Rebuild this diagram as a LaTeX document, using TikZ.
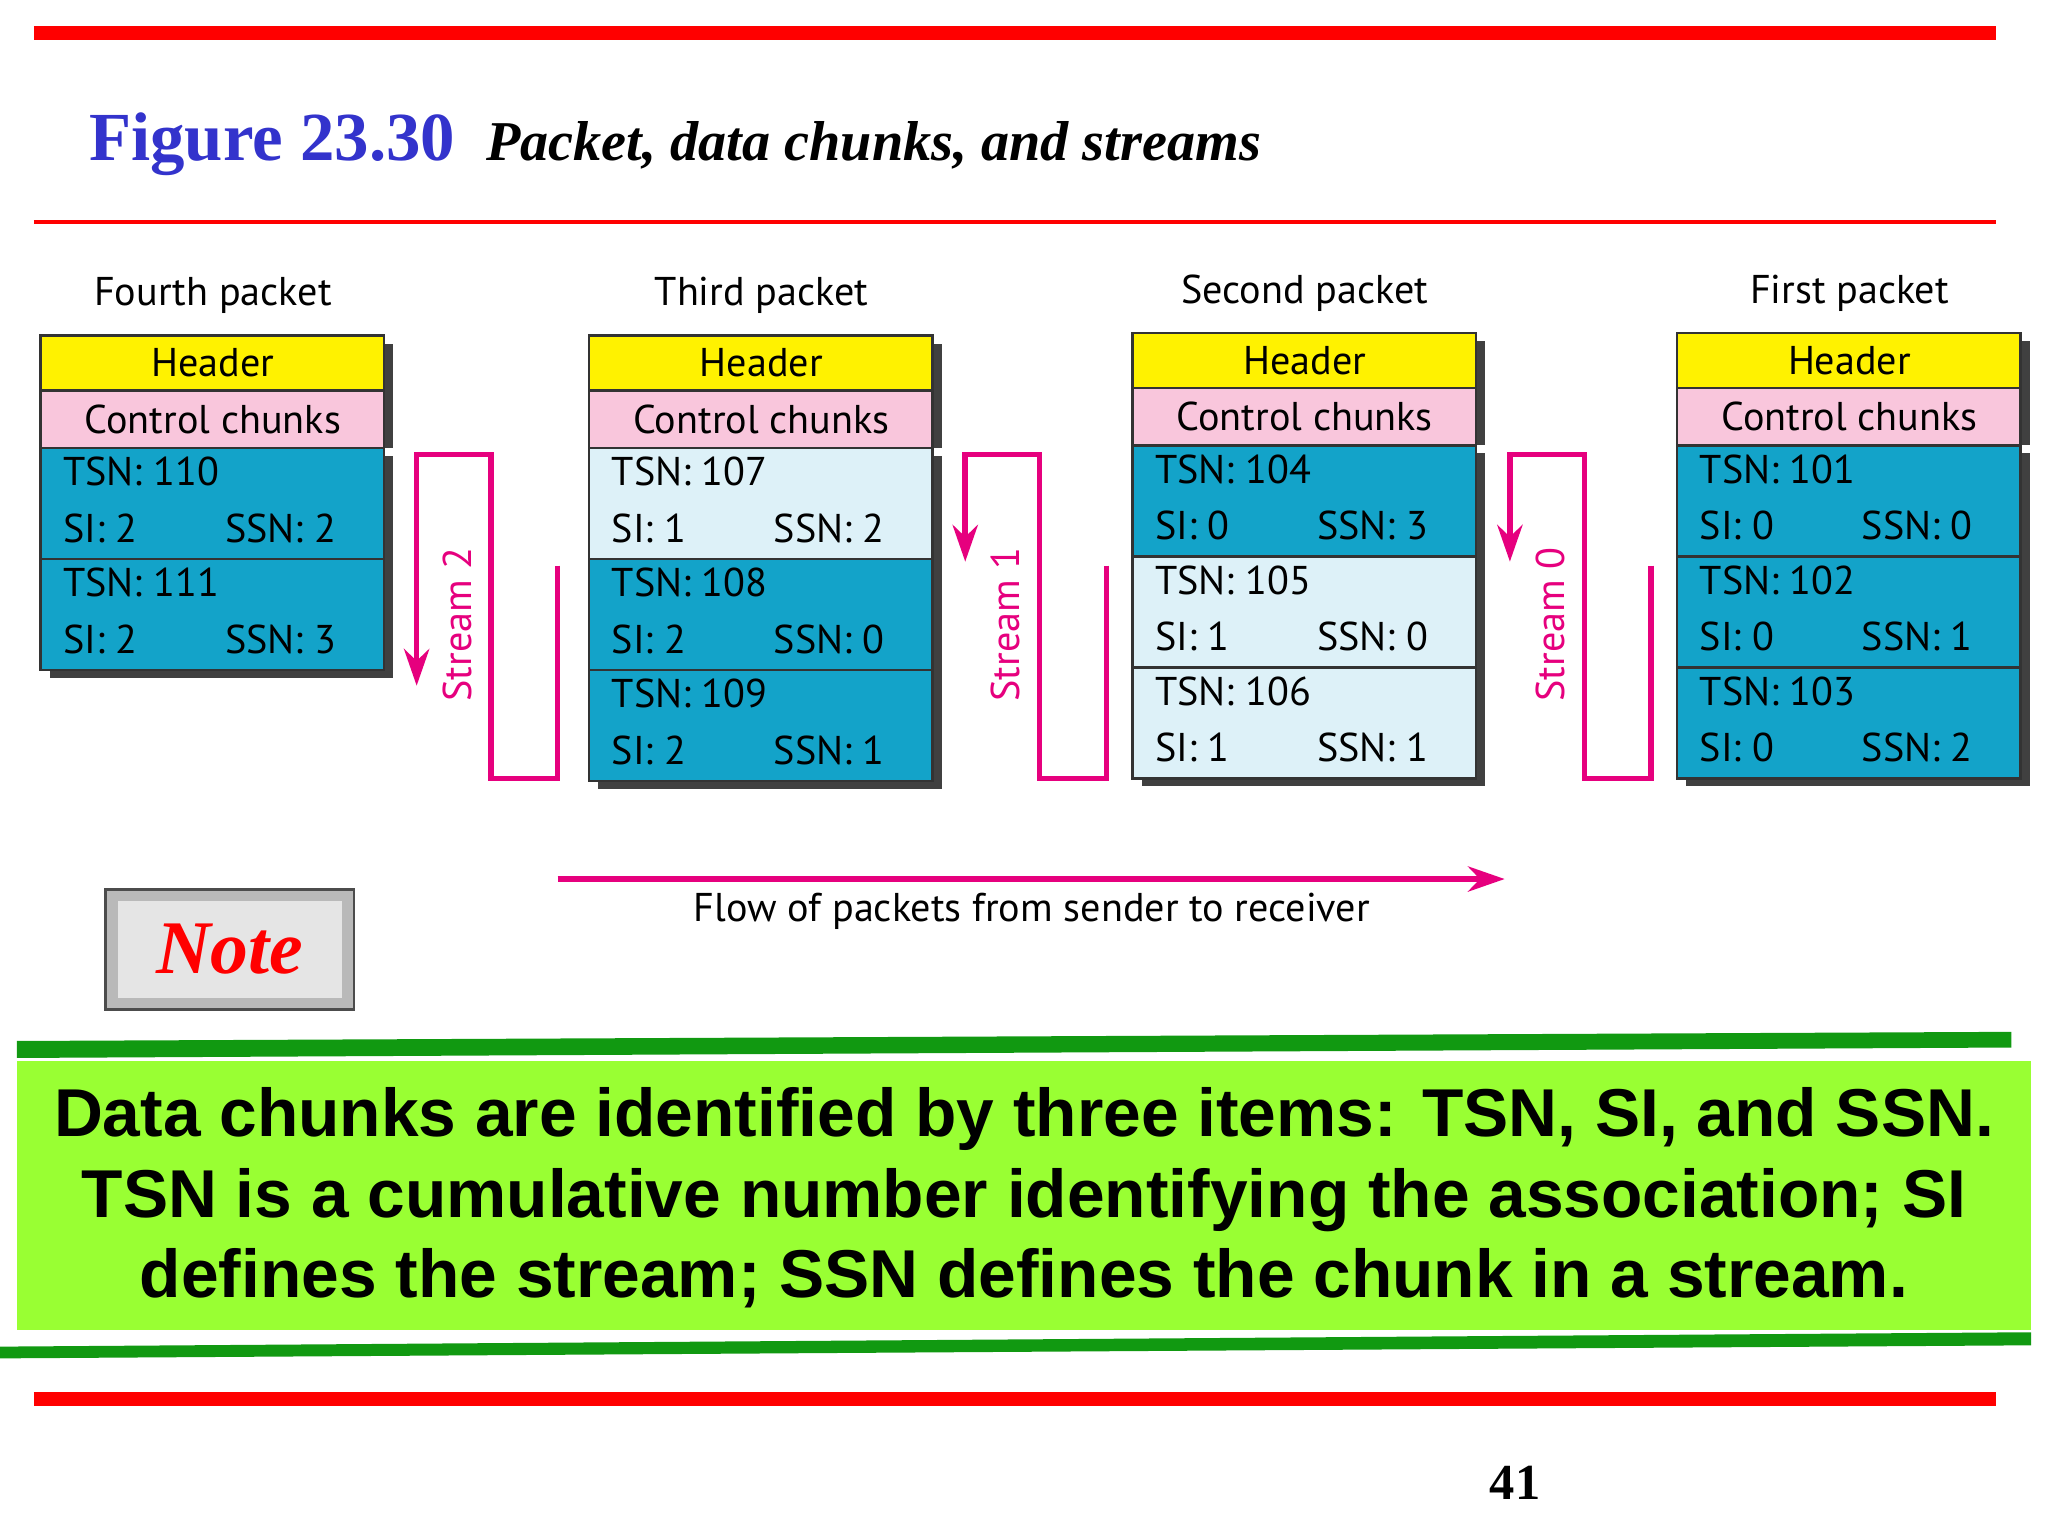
\documentclass[tikz,border=0pt]{standalone}
\usepackage{fontspec}
\setmainfont{Liberation Serif}
\newfontfamily\pk{PT Sans}
\newfontfamily\ar{Liberation Sans}
\usetikzlibrary{arrows.meta}
\definecolor{mag}{HTML}{E6007E}
\definecolor{dk}{HTML}{13A3C9}
\definecolor{lt}{HTML}{DDF1F8}
\definecolor{pinkc}{HTML}{F9C6DC}
\definecolor{ttl}{HTML}{3333CC}
\definecolor{lgreen}{HTML}{99FF33}
\definecolor{dgreen}{HTML}{119911}
\tikzset{
 cell/.style={draw=black!80,line width=1.2pt,anchor=north west,inner sep=0pt},
 txt/.style={font=\pk\fontsize{17.5}{20}\selectfont,inner sep=0pt},
 strm/.style={draw=mag,line width=2.4pt},
 tip/.style={-{Stealth[length=16pt,width=11pt]}},
}
\begin{document}
\begin{tikzpicture}[x=0.02cm,y=-0.02cm]
\useasboundingbox (0,0) rectangle (1568,1176);
\fill[white] (0,0) rectangle (1568,1176);
\draw[red,line width=6pt] (26,25) -- (1528,25);
\draw[red,line width=1.8pt] (26,170) -- (1528,170);
\node[anchor=base west,text=ttl,font=\bfseries\fontsize{30}{34}\selectfont,inner sep=0] (fig) at (68,123) {Figure 23.30};
\node[anchor=base west,font=\bfseries\itshape\fontsize{24.5}{28}\selectfont,inner sep=0] (sub) at (372,123) {Packet, data chunks, and streams};
\foreach \nm/\X/\T/\lab/\cells in {
 p4/31/257/Fourth packet/{110/2/2/dk,111/2/3/dk},
 p3/451/257/Third packet/{107/1/2/lt,108/2/0/dk,109/2/1/dk},
 p2/867/255/Second packet/{104/0/3/dk,105/1/0/lt,106/1/1/lt},
 p1/1284/255/First packet/{101/0/0/dk,102/0/1/dk,103/0/2/dk}}{
  \node[txt,anchor=base] (\nm lab) at (\X+132,\T-23) {\lab};
  \begin{scope}[shift={(\X,\T)}]
   \coordinate (\nm o) at (0,0);
   \foreach \tsn/\si/\ssn/\col [count=\i] in \cells {
     \fill[black!75] (7,86+\i*85-85+6) rectangle (270,86+\i*85+6);
   }
   \fill[black!75] (7,6) rectangle (270,86);
   \draw[cell,fill=yellow] (0,0) rectangle (263,42);
   \node[txt] (\nm h) at (132,21) {Header};
   \draw[cell,fill=pinkc] (0,42) rectangle (263,86);
   \node[txt] (\nm c) at (132,64) {Control chunks};
   \foreach \tsn/\si/\ssn/\col [count=\i] in \cells {
     \draw[cell,fill=\col] (0,86+\i*85-85) rectangle (263,86+\i*85);
     \node[txt,anchor=base west] (\nm t\i) at (17,86+\i*85-85+29) {TSN: \tsn};
     \node[txt,anchor=base west] (\nm s\i) at (17,86+\i*85-85+72) {SI: \si};
     \node[txt,anchor=base west] (\nm n\i) at (141,86+\i*85-85+72) {SSN: \ssn};
   }
  \end{scope}
}
\foreach \a/\lab/\e in {319/Stream 2/525,739/Stream 1/430,1156/Stream 0/430}{
  \draw[strm,tip] (\a+108,433) -- (\a+108,596) -- (\a+57,596) -- (\a+57,348) -- (\a,348) -- (\a,\e);
  \node[txt,text=mag,rotate=90] (sl\a) at (\a+31,478) {\lab};
}
\coordinate (fa) at (427,673); \coordinate (fb) at (1152,673);
\draw[strm,tip] (fa) -- (fb);
\node[txt] (flow) at (790,698) {Flow of packets from sender to receiver};
\fill[black!70] (80,680) rectangle (272,774);
\fill[gray!55] (82,682) rectangle (270,772);
\fill[gray!20] (90,690) rectangle (262,764);
\node[text=red,font=\bfseries\itshape\fontsize{33}{36}\selectfont,inner sep=0] (note) at (176,727) {Note};
\fill[dgreen] (13,797) -- (1540,790) -- (1540,802) -- (13,810) -- cycle;
\fill[lgreen] (13,812) rectangle (1555,1018);
\fill[dgreen] (0,1031) -- (1555,1020) -- (1555,1030) -- (0,1040) -- cycle;
\node[font=\ar\bfseries\fontsize{29.5}{35}\selectfont,align=center,inner sep=0] (msg) at (784,917)
 {Data chunks are identified by three items: TSN, SI, and SSN.\\TSN is a cumulative number identifying the association; SI\\defines the stream; SSN defines the chunk in a stream.};
\draw[red,line width=6pt] (26,1071) -- (1528,1071);
\node[font=\bfseries\fontsize{22}{24}\selectfont,inner sep=0] (pg) at (1160,1135) {41};
\end{tikzpicture}
\end{document}
